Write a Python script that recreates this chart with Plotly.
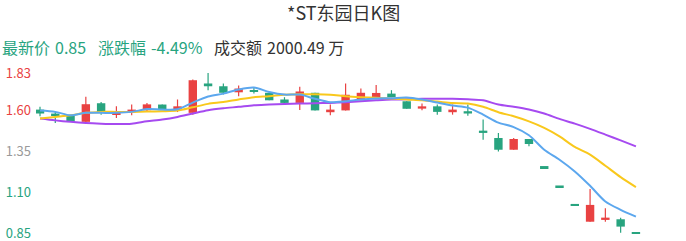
import plotly.graph_objects as go

title = "*ST东园日K图"
open_ = [1.606, 1.580, 1.567, 1.531, 1.645, 1.574, 1.590, 1.602, 1.637, 1.602,
         1.586, 1.766, 1.749, 1.712, 1.725, 1.709, 1.668, 1.647, 1.709, 1.590,
         1.601, 1.663, 1.677, 1.704, 1.657, 1.612, 1.626, 1.590, 1.596, 1.477,
         1.432, 1.360, 1.426, 1.254, 1.135, 1.022, 0.919, 0.930, 0.934, 0.850]
high = [1.623, 1.594, 1.567, 1.684, 1.653, 1.626, 1.637, 1.646, 1.637, 1.668,
        1.791, 1.830, 1.766, 1.754, 1.740, 1.709, 1.682, 1.746, 1.709, 1.637,
        1.766, 1.735, 1.756, 1.725, 1.657, 1.643, 1.637, 1.637, 1.637, 1.545,
        1.463, 1.432, 1.426, 1.254, 1.135, 1.022, 1.120, 1.002, 0.944, 0.850]
low = [1.565, 1.524, 1.531, 1.524, 1.575, 1.555, 1.571, 1.592, 1.603, 1.591,
       1.575, 1.725, 1.698, 1.688, 1.704, 1.663, 1.641, 1.603, 1.601, 1.571,
       1.601, 1.663, 1.677, 1.682, 1.611, 1.602, 1.575, 1.575, 1.569, 1.422,
       1.350, 1.360, 1.381, 1.254, 1.135, 1.022, 0.919, 0.919, 0.852, 0.850]
close = [1.582, 1.571, 1.531, 1.639, 1.592, 1.586, 1.606, 1.638, 1.603, 1.626,
         1.786, 1.749, 1.709, 1.735, 1.715, 1.663, 1.647, 1.717, 1.601, 1.606,
         1.697, 1.709, 1.708, 1.682, 1.611, 1.626, 1.592, 1.606, 1.582, 1.463,
         1.360, 1.426, 1.395, 1.254, 1.135, 1.022, 1.022, 0.944, 0.889, 0.850]
ma5 = [1.600, 1.592, 1.571, 1.586, 1.586, 1.586, 1.592, 1.609, 1.606, 1.608,
       1.649, 1.686, 1.704, 1.729, 1.741, 1.714, 1.698, 1.698, 1.672, 1.651,
       1.657, 1.668, 1.674, 1.676, 1.680, 1.668, 1.649, 1.631, 1.618, 1.575,
       1.526, 1.499, 1.449, 1.360, 1.299, 1.227, 1.139, 1.043, 0.992, 0.950]
ma10 = [1.551, 1.561, 1.571, 1.586, 1.592, 1.592, 1.592, 1.594, 1.596, 1.600,
        1.620, 1.641, 1.652, 1.668, 1.682, 1.688, 1.697, 1.700, 1.700, 1.697,
        1.688, 1.682, 1.678, 1.674, 1.668, 1.663, 1.655, 1.646, 1.643, 1.623,
        1.590, 1.565, 1.534, 1.494, 1.442, 1.377, 1.330, 1.262, 1.192, 1.131]
ma20 = [1.551, 1.540, 1.531, 1.524, 1.520, 1.518, 1.520, 1.534, 1.545, 1.561,
        1.582, 1.602, 1.614, 1.623, 1.633, 1.637, 1.641, 1.643, 1.645, 1.647,
        1.651, 1.657, 1.663, 1.668, 1.669, 1.672, 1.672, 1.672, 1.669, 1.663,
        1.637, 1.623, 1.606, 1.582, 1.549, 1.520, 1.488, 1.453, 1.417, 1.381]
tick_vals = [0.85, 1.10, 1.35, 1.60, 1.83]
tick_labels = ["0.85", "1.10", "1.35", "1.60", "1.83"]
header_items = ["最新价", "0.85", "涨跌幅", "-4.49%", "成交额", "2000.49 万"]

RED = "#e94242"
GREEN = "#28a47f"
GREY = "#9a9a9a"
TEXT = "#333333"
FONT = "Noto Sans CJK SC, Noto Sans, sans-serif"

n = len(close)
idx = list(range(n))

colors = []
for i in idx:
    if close[i] > open_[i]:
        colors.append(RED)
    elif close[i] < open_[i]:
        colors.append(GREEN)
    else:
        prev = close[i - 1] if i > 0 else close[i]
        colors.append(RED if close[i] > prev else GREEN)

min_h = 0.012
body_base, body_h = [], []
for o, c in zip(open_, close):
    lo, d = min(o, c), abs(c - o)
    if d < min_h:
        lo -= (min_h - d) / 2
        d = min_h
    body_base.append(lo)
    body_h.append(d)

fig = go.Figure()

for col in (RED, GREEN):
    xs, ys = [], []
    for i in idx:
        if colors[i] == col and high[i] > low[i]:
            xs += [i, i, None]
            ys += [low[i], high[i], None]
    fig.add_trace(go.Scatter(x=xs, y=ys, mode="lines",
                             line=dict(color=col, width=1.2),
                             hoverinfo="skip", showlegend=False))

fig.add_trace(go.Bar(x=idx, y=body_h, base=body_base, width=0.55,
                     marker=dict(color=colors, line=dict(width=0)),
                     showlegend=False))

for vals, col in ((ma20, "#a64af0"), (ma10, "#f9c81c"), (ma5, "#5ca7ee")):
    fig.add_trace(go.Scatter(x=idx, y=vals, mode="lines",
                             line=dict(color=col, width=2, shape="spline", smoothing=0.8),
                             showlegend=False, hoverinfo="skip"))

label_colors = [GREEN, GREEN, GREY, RED, RED]
ticktext = [f'<span style="color:{c}">{t}</span>' for t, c in zip(tick_labels, label_colors)]

W, H = 686, 241
ml, mr, mt, mb = 36, 40, 60, 0
pw, ph = W - ml - mr, H - mt - mb
step = 15.28
x0 = (ml - 40) / step
x1 = (n - 1) + ((W - mr) - (40 + (n - 1) * step)) / step
pxu = 162.7
y_top = 1.83 + (73 - mt) / pxu
y_bot = 0.85 - (H - mb - 233) / pxu


def px_x(p):
    return (p - ml) / pw


def px_y(p):
    return 1 + (mt - p) / ph


header_x = [0, 53, 96, 149, 212, 265]
header_col = [GREEN, GREEN, GREEN, GREEN, TEXT, TEXT]
annotations = [dict(text=title, xref="paper", yref="paper", x=px_x(343), y=px_y(12),
                    xanchor="center", yanchor="middle", showarrow=False,
                    font=dict(size=18, color=TEXT, family=FONT))]
for t, hx, hc in zip(header_items, header_x, header_col):
    annotations.append(dict(text=t, xref="paper", yref="paper", x=px_x(hx), y=px_y(47),
                            xanchor="left", yanchor="middle", showarrow=False,
                            font=dict(size=16, color=hc, family=FONT)))

fig.update_layout(
    width=W, height=H,
    margin=dict(l=ml, r=mr, t=mt, b=mb),
    paper_bgcolor="white", plot_bgcolor="white",
    barmode="overlay", showlegend=False,
    font=dict(family=FONT, size=13, color=TEXT),
    xaxis=dict(range=[x0, x1], visible=False, fixedrange=True),
    yaxis=dict(range=[y_bot, y_top], tickvals=tick_vals, ticktext=ticktext,
               showgrid=False, zeroline=False, showline=False, ticks="",
               ticklabeloverflow="allow", ticklabelstandoff=4,
               tickfont=dict(size=13, family=FONT), fixedrange=True),
    annotations=annotations,
)

fig.write_html("out.html")
